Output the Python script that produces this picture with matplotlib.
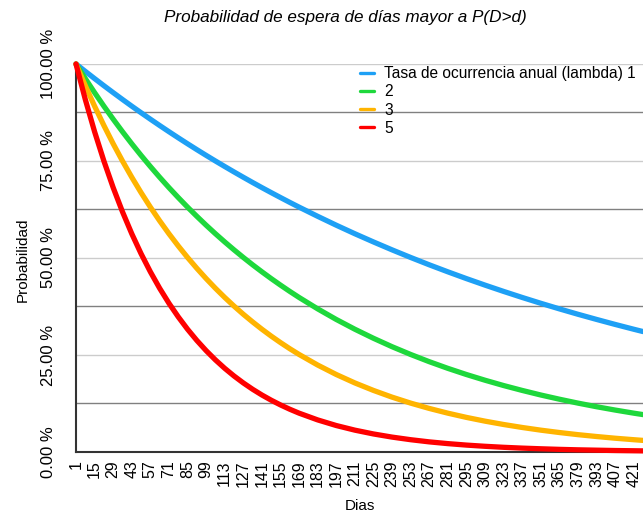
import matplotlib
matplotlib.use("Agg")
import matplotlib.pyplot as plt

# dias (cada 7 dias al inicio, despues cada 14, mas el ultimo punto visible)
dias = [1, 8, 15, 22, 29, 36, 43, 50, 57, 64, 71, 78, 85, 92, 99, 106, 113, 120,
        127, 134, 141, 148, 155, 162, 169,
        183, 197, 211, 225, 239, 253, 267, 281, 295, 309, 323, 337, 351, 365, 379,
        393, 407, 421, 428]

# probabilidad P(D>d) en %
lambda1 = [100, 98.10, 96.24, 94.41, 92.62, 90.86, 89.13, 87.44, 85.78, 84.15, 82.55,
           80.98, 79.44, 77.93, 76.45, 75.00, 73.58, 72.18, 70.81, 69.46, 68.14, 66.85,
           65.58, 64.33, 63.11,
           60.74, 58.45, 56.25, 54.14, 52.10, 50.14, 48.25, 46.44, 44.69, 43.01, 41.39,
           39.83, 38.33, 36.89, 35.50, 34.17, 32.88, 31.64, 31.04]
lambda2 = [100, 96.24, 92.62, 89.13, 85.78, 82.55, 79.44, 76.45, 73.58, 70.81, 68.14,
           65.58, 63.11, 60.74, 58.45, 56.25, 54.14, 52.10, 50.14, 48.25, 46.44, 44.69,
           43.01, 41.39, 39.83,
           36.89, 34.16, 31.64, 29.31, 27.14, 25.14, 23.28, 21.56, 19.97, 18.50, 17.13,
           15.87, 14.69, 13.61, 12.60, 11.67, 10.81, 10.01, 9.64]
lambda3 = [100, 94.41, 89.13, 84.15, 79.44, 75.00, 70.81, 66.85, 63.11, 59.58, 56.25,
           53.11, 50.14, 47.34, 44.69, 42.19, 39.83, 37.60, 35.50, 33.52, 31.64, 29.87,
           28.20, 26.62, 25.14,
           22.41, 19.97, 17.80, 15.87, 14.14, 12.60, 11.23, 10.01, 8.92, 7.95, 7.09,
           6.32, 5.63, 5.02, 4.47, 3.99, 3.55, 3.17, 2.99]
lambda5 = [100, 90.86, 82.55, 75.00, 68.14, 61.91, 56.25, 51.11, 46.44, 42.19, 38.33,
           34.83, 31.64, 28.75, 26.12, 23.73, 21.56, 19.59, 17.80, 16.17, 14.69, 13.35,
           12.13, 11.02, 10.01,
           8.27, 6.82, 5.63, 4.65, 3.84, 3.17, 2.61, 2.16, 1.78, 1.47, 1.21,
           1.00, 0.83, 0.68, 0.56, 0.47, 0.38, 0.32, 0.29]

series = [lambda1, lambda2, lambda3, lambda5]
labels = ["Tasa de ocurrencia anual (lambda) 1", "2", "3", "5"]
colors = ["#1ea0f5", "#1ed83c", "#ffb400", "#ff0000"]

xticks = list(range(1, 422, 14))
yticks = [0, 25, 50, 75, 100]
ytick_labels = ["0.00 %", "25.00 %", "50.00 %", "75.00 %", "100.00 %"]

plt.rcParams["font.family"] = ["Liberation Sans", "DejaVu Sans"]

fig = plt.figure(figsize=(6.43, 5.19), dpi=100)
ax = fig.add_axes([0.1182, 0.1291, 0.8818, 0.7476])

# lineas de cuadricula
for y in [25, 50, 75, 100]:
    ax.axhline(y, color="#cccccc", lw=1.0, zorder=1)
for y in [12.5, 37.5, 62.5, 87.5]:
    ax.axhline(y, color="#808080", lw=1.0, zorder=1)

for vals, lab, c in zip(series, labels, colors):
    ax.plot(dias, vals, color=c, lw=3.8, label=lab, zorder=3,
            solid_capstyle="round", solid_joinstyle="round", clip_on=False)

ax.set_xlim(1, 428)
ax.set_ylim(0, 100)
ax.set_xticks(xticks)
ax.set_xticklabels([str(d) for d in xticks], rotation=90, fontsize=11.5)
ax.set_yticks(yticks)
ax.set_yticklabels(ytick_labels, rotation=90, va="center", fontsize=12)
ax.tick_params(length=0, pad=6)
ax.tick_params(axis="y", pad=14.5)

for s in ["top", "right"]:
    ax.spines[s].set_visible(False)
for s in ["left", "bottom"]:
    ax.spines[s].set_color("#333333")
    ax.spines[s].set_linewidth(1.5)

fig.text(0.537, 0.967, "Probabilidad de espera de días mayor a P(D>d)",
         ha="center", va="center", fontsize=12.3, style="italic")
fig.text(0.036, 0.5, "Probabilidad", rotation=90, ha="center", va="center", fontsize=11)
fig.text(0.56, 0.025, "Dias", ha="center", va="center", fontsize=11)

leg = ax.legend(loc="upper left", bbox_to_anchor=(0.485, 1.018), frameon=False,
                fontsize=11.2, handlelength=0.9, handletextpad=0.65,
                labelspacing=0.2, borderaxespad=0.2)
for h in leg.get_lines():
    h.set_linewidth(2.4)

fig.savefig("out.png", dpi=100)
